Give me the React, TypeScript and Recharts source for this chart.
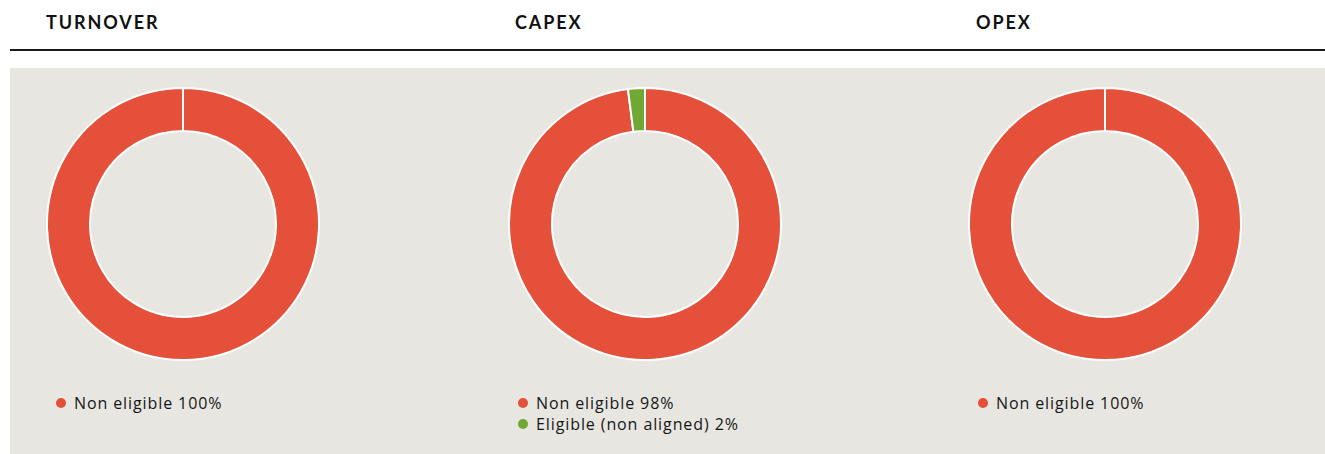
import React from "react";
import { PieChart, Pie, Cell } from "recharts";

const categories = ["TURNOVER", "CAPEX", "OPEX"];
const nonEligible = [100, 98, 100];
const eligible = [0, 2, 0];
const seriesNames = ["Non eligible", "Eligible (non aligned)"];
const colors = ["#e4503a", "#6fa832"];

const centers = [183, 645, 1105];
const titleX = [46, 515, 976];
const font = "Lato, 'Open Sans', sans-serif";
const legendFont = "'Open Sans', Lato, sans-serif";

function Donut({ idx }: { idx: number }) {
  const data = [
    { name: seriesNames[0], value: nonEligible[idx], color: colors[0] },
    { name: seriesNames[1], value: eligible[idx], color: colors[1] },
  ].filter((d) => d.value > 0);
  const cx = centers[idx];

  return (
    <>
      <div
        style={{
          position: "absolute",
          left: titleX[idx],
          top: 11,
          fontFamily: font,
          fontWeight: 700,
          fontSize: 18,
          letterSpacing: 1.9,
          color: "#111",
        }}
      >
        {categories[idx]}
      </div>
      <div style={{ position: "absolute", left: cx - 150, top: 74 }}>
        <PieChart width={300} height={300} margin={{ top: 0, right: 0, bottom: 0, left: 0 }}>
          <Pie
            data={data}
            dataKey="value"
            cx={150}
            cy={150}
            innerRadius={93}
            outerRadius={136}
            startAngle={90}
            endAngle={-270}
            stroke="#ffffff"
            strokeWidth={2}
            isAnimationActive={false}
          >
            {data.map((d) => (
              <Cell key={d.name} fill={d.color} />
            ))}
          </Pie>
        </PieChart>
      </div>
      <div style={{ position: "absolute", left: cx - 127, top: 392 }}>
        {data.map((d) => (
          <div
            key={d.name}
            style={{
              display: "flex",
              alignItems: "center",
              height: 21,
              fontFamily: legendFont,
              fontSize: 16,
              letterSpacing: 0.9,
              color: "#161616",
            }}
          >
            <span
              style={{
                width: 10,
                height: 10,
                borderRadius: 5,
                background: d.color,
                marginRight: 8,
                display: "inline-block",
              }}
            />
            {d.name} {d.value}%
          </div>
        ))}
      </div>
    </>
  );
}

export default function App() {
  return (
    <div
      style={{
        position: "absolute",
        left: 0,
        top: 0,
        width: 1325,
        height: 454,
        background: "#ffffff",
        overflow: "hidden",
      }}
    >
      <div
        style={{
          position: "absolute",
          left: 10,
          top: 49,
          width: 1315,
          height: 1.5,
          background: "#1a1a1a",
        }}
      />
      <div
        style={{
          position: "absolute",
          left: 10,
          top: 68,
          width: 1315,
          height: 386,
          background: "#e8e6e1",
        }}
      />
      {categories.map((c, i) => (
        <Donut key={c} idx={i} />
      ))}
    </div>
  );
}
